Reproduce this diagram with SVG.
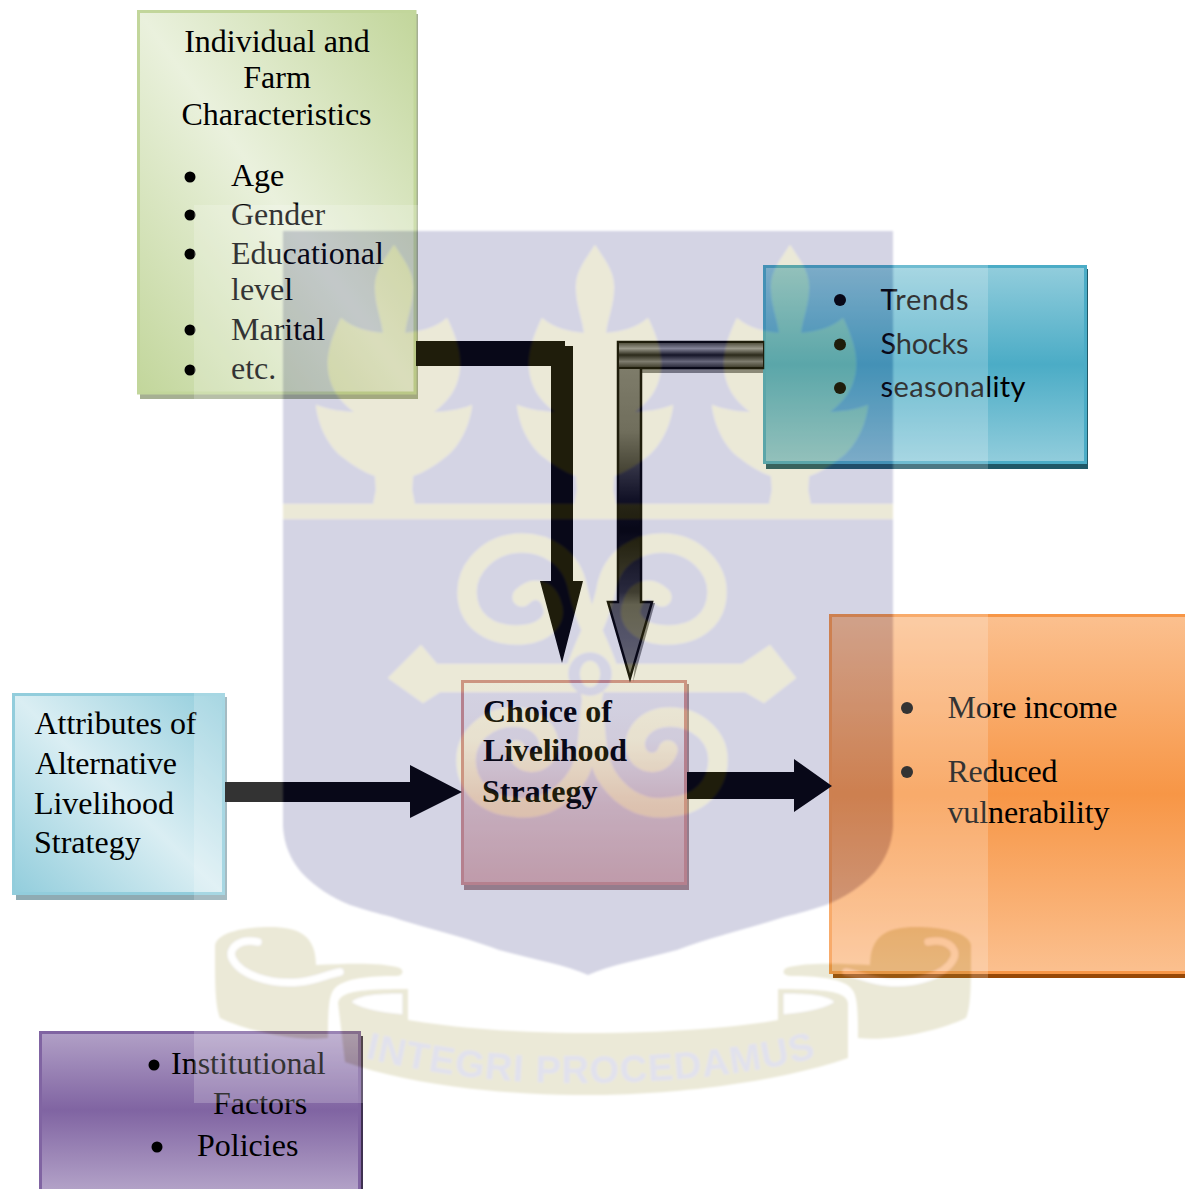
<svg xmlns="http://www.w3.org/2000/svg" width="1185" height="1189" viewBox="0 0 1185 1189">
<style>
text{font-family:"Liberation Serif","Times New Roman",serif;font-size:32px;fill:#000}
.sans{font-family:Lato,"Open Sans",sans-serif;font-size:29px}
.b{font-weight:bold}
.c{text-anchor:middle}
.box{stroke-width:3}
.cream{fill:#9b9137}
.creamline{fill:none;stroke:#9b9137;stroke-width:19;stroke-linecap:round}
</style>
<defs>
<linearGradient id="gGreen" x1="0" y1="1" x2="1" y2="0"><stop offset="0" stop-color="#c2d69b"/><stop offset=".5" stop-color="#eaf1dd"/><stop offset="1" stop-color="#c2d69b"/></linearGradient>
<linearGradient id="gBlue" x1="0" y1="1" x2="1" y2="0"><stop offset="0" stop-color="#92cddc"/><stop offset=".5" stop-color="#daeef3"/><stop offset="1" stop-color="#92cddc"/></linearGradient>
<linearGradient id="gTeal" x1="0" y1="0" x2="0" y2="1"><stop offset="0" stop-color="#92cddc"/><stop offset=".5" stop-color="#4bacc6"/><stop offset="1" stop-color="#92cddc"/></linearGradient>
<linearGradient id="gOrange" x1="0" y1="0" x2="0" y2="1"><stop offset="0" stop-color="#fbc08f"/><stop offset=".5" stop-color="#f79646"/><stop offset="1" stop-color="#fbc08f"/></linearGradient>
<linearGradient id="gPurple" gradientUnits="userSpaceOnUse" x1="0" y1="1031" x2="0" y2="1189"><stop offset="0" stop-color="#b2a1c7"/><stop offset=".5" stop-color="#8064a2"/><stop offset="1" stop-color="#b2a1c7"/></linearGradient>
<linearGradient id="gPink" x1="0" y1="0" x2="0" y2="1"><stop offset="0" stop-color="#ffffff"/><stop offset=".3" stop-color="#fbf4f4"/><stop offset=".6" stop-color="#eed0d0"/><stop offset="1" stop-color="#e5b8b7"/></linearGradient>
<linearGradient id="gShaft" gradientUnits="userSpaceOnUse" x1="0" y1="369" x2="0" y2="679"><stop offset="0" stop-color="#777"/><stop offset=".2" stop-color="#666"/><stop offset=".42" stop-color="#0c0c12"/><stop offset=".52" stop-color="#000"/><stop offset=".72" stop-color="#2a2a30"/><stop offset=".76" stop-color="#555"/><stop offset=".86" stop-color="#5f5f66"/><stop offset="1" stop-color="#7a7a70"/></linearGradient>
<linearGradient id="gBar" gradientUnits="userSpaceOnUse" x1="0" y1="342" x2="0" y2="368"><stop offset="0" stop-color="#333"/><stop offset=".25" stop-color="#9a9aa0"/><stop offset=".5" stop-color="#101014"/><stop offset=".75" stop-color="#77777c"/><stop offset="1" stop-color="#222"/></linearGradient>
<filter id="soft" x="-5%" y="-5%" width="110%" height="110%"><feGaussianBlur stdDeviation="1.2"/></filter>
<path id="plant" d="M0,245C8,258 19,270 19,287C19,305 12,320 11,333C25,332 42,328 53,318C66,345 70,365 62,385C58,395 52,402 40,412C50,412 65,410 78,405C76,425 65,448 50,458C40,466 30,472 19,476L18,490L21,505H-21L-18,490L-19,476C-30,472 -40,466 -50,458C-65,448 -76,425 -78,405C-65,410 -50,412 -40,412C-52,402 -58,395 -62,385C-70,365 -66,345 -53,318C-42,328 -25,332 -11,333C-12,320 -19,305 -19,287C-19,270 -8,258 0,245Z"/>
<g id="roll">
<path class="cream" d="M215,945C218,932 245,927 270,927C298,927 316,935 316,965C345,964 380,962 400,968C405,972 402,976 395,976C370,976 345,978 335,988C330,994 328,1000 328,1038C295,1042 245,1030 220,1018C215,1005 215,985 215,945Z"/>
<path fill="none" stroke="#fff" stroke-width="7" stroke-linecap="round" d="M258,942C240,938 228,948 232,958C240,975 270,985 300,982C318,980 325,975 340,972"/>
<path fill="#fff" d="M352,1002C362,994 385,994 402,994V1014C385,1012 365,1010 352,1002Z"/>
</g>
</defs>

<rect width="1185" height="1189" fill="#fff"/>

<g id="node-individual">
<rect x="140" y="14" width="278" height="385" fill="#4e6128" opacity=".5"/>
<rect class="box" x="138.5" y="11.5" width="276.5" height="381.5" fill="url(#gGreen)" stroke="#c2d69b"/>
<text class="c" x="277" y="52">Individual and</text>
<text class="c" x="277" y="88">Farm</text>
<text class="c" x="276.500" y="125">Characteristics</text>
<circle cx="190" cy="177" r="5.5"/><text x="231" y="186">Age</text>
<circle cx="190" cy="215" r="5.5"/><text x="231" y="225">Gender</text>
<circle cx="190" cy="254" r="5.5"/><text x="231" y="264">Educational</text>
<text x="231" y="300">level</text>
<circle cx="190" cy="330" r="5.5"/><text x="231" y="340">Marital</text>
<circle cx="190" cy="370" r="5.5"/><text x="231" y="379">etc.</text>
</g>

<g id="node-trends">
<rect x="766" y="269" width="322" height="200" fill="#205867"/>
<rect class="box" x="764.5" y="266.5" width="321" height="196" fill="url(#gTeal)" stroke="#4bacc6"/>
<circle cx="840" cy="300" r="6"/><text class="sans" x="880.500" y="310" textLength="88">Trends</text>
<circle cx="840" cy="344.5" r="6"/><text class="sans" x="880.500" y="354" textLength="88">Shocks</text>
<circle cx="840" cy="388" r="6"/><text class="sans" x="880.500" y="397" textLength="145">seasonality</text>
</g>

<g id="node-attributes">
<rect x="16" y="697" width="211" height="203" fill="#205867" opacity=".5"/>
<rect class="box" x="13.5" y="694.5" width="210" height="199" fill="url(#gBlue)" stroke="#92cddc"/>
<text x="34.500" y="734" textLength="162">Attributes of</text>
<text x="35" y="774" textLength="142">Alternative</text>
<text x="34" y="814" textLength="140">Livelihood</text>
<text x="34" y="853">Strategy</text>
</g>

<g id="node-choice">
<rect x="464" y="684" width="225" height="206" fill="#622423" opacity=".5"/>
<rect class="box" x="462.5" y="681.5" width="223" height="202" fill="url(#gPink)" stroke="#d99694"/>
<text class="b" x="483" y="722">Choice of</text>
<text class="b" x="483" y="761" textLength="144">Livelihood</text>
<text class="b" x="482" y="802">Strategy</text>
</g>

<g id="node-outcomes">
<rect x="833" y="618" width="360" height="360" fill="#974806"/>
<rect class="box" x="830.5" y="615.5" width="360" height="357" fill="url(#gOrange)" stroke="#f79646"/>
<circle cx="907" cy="708" r="6"/><text x="947.500" y="718" textLength="170">More income</text>
<circle cx="907" cy="772" r="6"/><text x="947.500" y="782" textLength="110">Reduced</text>
<text x="947.500" y="823" textLength="162">vulnerability</text>
</g>

<g id="node-institutional">
<rect x="43" y="1036" width="320" height="170" fill="#3f3151"/>
<rect class="box" x="40.5" y="1032.5" width="319" height="170" fill="url(#gPurple)" stroke="#8064a2"/>
<circle cx="154" cy="1065" r="5.5"/><text x="171" y="1074">Institutional</text>
<text x="213" y="1114">Factors</text>
<circle cx="157" cy="1147" r="5.5"/><text x="197" y="1156">Policies</text>
</g>

<g id="connectors">
<path id="conn-individual" d="M416,341H565V346H573V581H583L562,663L540,581H551V366H416Z" fill="#000"/>
<path d="M620,368H763V373H620ZM655,603L633,682L643,603Z" fill="#555" opacity=".7"/>
<path id="conn-trends" d="M763,342H618V602H608L630,678L652,602H641V368H763Z" fill="url(#gShaft)" stroke="#000" stroke-width="2.500"/>
<rect x="619" y="343" width="144" height="25" fill="url(#gBar)"/>
<path d="M763,342H618V368H763" fill="none" stroke="#000" stroke-width="2"/>
<path id="conn-attributes" d="M225,782H410V765L462,792L410,818V802H225Z" fill="#000"/>
<path id="conn-choice" d="M687,772H794V759L832,786L794,812V799H687Z" fill="#000"/>
</g>

<g id="watermark" opacity=".2">
<rect x="194" y="205" width="794" height="898" fill="#fff"/>
<g filter="url(#soft)">
<path d="M283,231H893V827C892,845 885,860 875,872C860,888 845,897 826,905C810,910 800,913 784,917C745,930 710,937 677,950C640,960 610,965 588,975C566,965 536,960 499,950C466,937 431,930 392,917C376,913 366,910 350,905C331,897 316,888 301,872C291,860 284,845 283,827Z" fill="#2a2c78"/>
<use href="#plant" x="394" class="cream"/>
<use href="#plant" x="595" class="cream"/>
<use href="#plant" x="790" class="cream"/>
<rect x="283" y="504" width="610" height="15" class="cream"/>
<path class="cream" d="M388,678L421,645L437,664H742L770,645L796,678L764,703L745,692H440L423,703Z"/>
<g class="creamline">
<path d="M575,672C585,640 600,620 606,590C612,555 640,543 662,543C695,543 717,568 717,592C717,620 695,635 668,635C640,635 626,620 632,605C636,590 650,585 662,597"/>
<path transform="translate(1184,0) scale(-1,1)" d="M575,672C585,640 600,620 606,590C612,555 640,543 662,543C695,543 717,568 717,592C717,620 695,635 668,635C640,635 626,620 632,605C636,590 650,585 662,597"/>
<path d="M590,690C598,720 592,750 606,775C625,805 650,810 670,807C700,805 718,785 718,760C718,735 695,717 670,717C645,717 632,735 636,750C640,765 662,768 668,750"/>
<path transform="translate(1184,0) scale(-1,1)" d="M590,690C598,720 592,750 606,775C625,805 650,810 670,807C700,805 718,785 718,760C718,735 695,717 670,717C645,717 632,735 636,750C640,765 662,768 668,750"/>
</g>
<ellipse cx="590" cy="674" rx="22" ry="22" fill="#2a2c78"/>
<ellipse cx="590" cy="674" rx="10" ry="13" class="cream"/>
<path class="cream" d="M338,1003C340,993 352,989 408,989V1020C470,1030 530,1033 588,1033C650,1033 720,1030 778,1020V989C834,989 846,993 848,1003V1058C770,1085 660,1095 590,1095C500,1095 410,1085 345,1062Z"/>
<use href="#roll"/>
<use href="#roll" transform="translate(1186,0) scale(-1,1)"/>
<path id="motto" d="M365,1058C450,1078 520,1084 590,1083C670,1082 750,1075 822,1056" fill="none"/>
<text style="font-family:'Liberation Sans',Arial,sans-serif;font-size:38px;font-weight:bold;fill:#6a6ca6" textLength="455"><textPath href="#motto">INTEGRI PROCEDAMUS</textPath></text>
</g>
</g>
</svg>
